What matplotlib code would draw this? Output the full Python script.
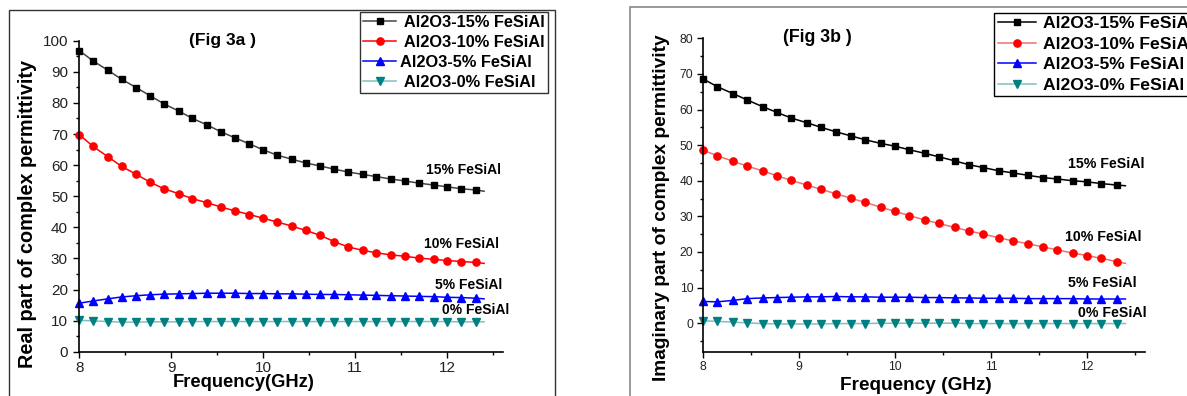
import matplotlib
matplotlib.use("Agg")
import matplotlib.pyplot as plt
from matplotlib.patches import Rectangle

plt.rcParams['font.family'] = ['Liberation Sans', 'DejaVu Sans']

# frequency points (GHz), markers; the fitted line runs on to 12.4
freq = [8.00, 8.15, 8.31, 8.46, 8.62, 8.77, 8.92, 9.08, 9.23, 9.39,
        9.54, 9.69, 9.85, 10.00, 10.15, 10.31, 10.46, 10.62, 10.77, 10.92,
        11.08, 11.23, 11.39, 11.54, 11.69, 11.85, 12.00, 12.15, 12.31]
freq_end = 12.40

labels = ['Al2O3-15% FeSiAl', 'Al2O3-10% FeSiAl', 'Al2O3-5% FeSiAl', 'Al2O3-0% FeSiAl']
short_labels = ['15% FeSiAl', '10% FeSiAl', '5% FeSiAl', '0% FeSiAl']

# Fig 3a : real part
real_15 = [96.8, 93.5, 90.5, 87.6, 84.9, 82.3, 79.7, 77.4, 75.0, 72.9,
           70.7, 68.8, 66.8, 64.9, 63.2, 61.9, 60.7, 59.7, 58.7, 57.8,
           57.0, 56.3, 55.5, 54.9, 54.2, 53.6, 53.0, 52.4, 52.0]
real_10 = [69.8, 66.0, 62.7, 59.6, 57.0, 54.5, 52.4, 50.8, 49.2, 47.9,
           46.5, 45.3, 44.1, 42.9, 41.7, 40.4, 39.0, 37.4, 35.4, 33.7,
           32.6, 31.8, 31.1, 30.7, 30.1, 29.7, 29.3, 29.0, 28.7]
real_5 = [15.6, 16.3, 17.0, 17.6, 18.0, 18.3, 18.5, 18.6, 18.7, 18.8,
          18.8, 18.8, 18.7, 18.7, 18.6, 18.6, 18.5, 18.4, 18.4, 18.3,
          18.2, 18.1, 18.0, 17.9, 17.8, 17.7, 17.5, 17.4, 17.2]
real_0 = [10.1, 9.9, 9.7, 9.5, 9.5, 9.6, 9.6, 9.6, 9.7, 9.7,
          9.7, 9.7, 9.7, 9.7, 9.7, 9.7, 9.7, 9.7, 9.7, 9.7,
          9.7, 9.7, 9.7, 9.7, 9.7, 9.7, 9.7, 9.6, 9.6]
real_end = [51.6, 28.4, 17.0, 9.6]

# Fig 3b : imaginary part
imag_15 = [68.6, 66.4, 64.5, 62.7, 60.8, 59.2, 57.6, 56.3, 55.0, 53.7,
           52.6, 51.5, 50.5, 49.7, 48.7, 47.7, 46.7, 45.6, 44.5, 43.7,
           42.8, 42.2, 41.5, 40.9, 40.5, 40.0, 39.7, 39.2, 38.8]
imag_10 = [48.6, 47.0, 45.5, 44.1, 42.8, 41.4, 40.1, 38.8, 37.6, 36.3,
           35.1, 33.9, 32.6, 31.4, 30.2, 29.0, 28.0, 26.9, 25.9, 25.0,
           24.0, 23.1, 22.3, 21.4, 20.6, 19.7, 19.0, 18.2, 17.3]
imag_5 = [6.1, 6.0, 6.4, 6.9, 7.1, 7.2, 7.3, 7.4, 7.4, 7.5,
          7.4, 7.4, 7.3, 7.3, 7.3, 7.2, 7.2, 7.1, 7.1, 7.0,
          7.0, 7.0, 6.9, 6.9, 6.9, 6.9, 6.8, 6.8, 6.8]
imag_0 = [0.7, 0.5, 0.3, 0.1, -0.1, -0.2, -0.2, -0.2, -0.2, -0.1,
          -0.1, -0.1, 0.0, 0.0, 0.0, 0.0, 0.0, 0.0, -0.1, -0.1,
          -0.1, -0.1, -0.1, -0.1, -0.1, -0.1, -0.1, -0.1, -0.1]
imag_end = [38.6, 16.8, 6.8, -0.1]

# label positions (x in GHz, y in data units)
real_label_pos = [(11.77, 58.4), (11.75, 34.5), (11.87, 21.4), (11.94, 13.4)]
imag_label_pos = [(11.80, 44.7), (11.77, 24.3), (11.80, 11.4), (11.91, 3.0)]

markers = ['s', 'o', '^', 'v']
marker_sizes = [4.5, 5.2, 6.2, 6.2]
marker_colors = ['black', 'red', 'blue', '#008080']
line_colors_a = ['#444444', 'red', 'blue', '#7fc0c0']
line_colors_b = ['black', '#f07070', 'blue', '#7fc0c0']

fig = plt.figure(figsize=(11.87, 3.96), dpi=100)

# outer frames of the two figure panels
fig.patches.append(Rectangle((9 / 1187, -0.1), 546 / 1187, 1.1 - 10 / 396,
                             transform=fig.transFigure, fill=False,
                             edgecolor='#333333', linewidth=1.0))
fig.patches.append(Rectangle((630 / 1187, -0.1), 1.0, 1.1 - 6.7 / 396,
                             transform=fig.transFigure, fill=False,
                             edgecolor='#888888', linewidth=1.2))

ax1 = fig.add_axes([79.3 / 1187, 44.3 / 396, 423.2 / 1187, 311.0 / 396])
ax2 = fig.add_axes([703 / 1187, 44.3 / 396, 441.6 / 1187, 313.4 / 396])


def draw(ax, series, ends, line_colors, lead):
    handles = []
    for i, vals in enumerate(series):
        h, = ax.plot(freq + [freq_end], vals + [ends[i]],
                     color=line_colors[i], linewidth=1.1,
                     marker=markers[i], markersize=marker_sizes[i],
                     markerfacecolor=marker_colors[i],
                     markeredgecolor=marker_colors[i],
                     markevery=slice(0, len(freq)),
                     label=lead[i] + labels[i], clip_on=False)
        handles.append(h)
    return handles


def style(ax, ylim, yticks, tick_size, ypad):
    ax.set_xlim(8, 12.6)
    ax.set_ylim(*ylim)
    for s in ['top', 'right']:
        ax.spines[s].set_visible(False)
    ax.spines['left'].set_linewidth(1.2)
    ax.spines['bottom'].set_linewidth(1.2)
    ax.set_xticks([8, 9, 10, 11, 12])
    ax.set_xticks([8.5, 9.5, 10.5, 11.5, 12.5], minor=True)
    ax.set_yticks(yticks)
    ax.set_yticks([t + 5 for t in yticks if t + 5 < ylim[1]] +
                  ([ylim[0] + 3] if ylim[0] < 0 else []), minor=True)
    ax.tick_params(which='major', direction='out', length=4.2, width=1.0,
                   labelsize=tick_size, labelcolor='#222222')
    ax.tick_params(which='minor', direction='out', length=2.2, width=1.0)
    ax.tick_params(axis='y', which='major', pad=ypad)
    ax.tick_params(axis='x', which='major', pad=2.5)


# ---------- Fig 3a ----------
h1 = draw(ax1, [real_15, real_10, real_5, real_0], real_end, line_colors_a,
          [' ', ' ', '', ' '])
style(ax1, (0, 100), list(range(0, 101, 10)), 11, 4.0)
ax1.text(9.556, 100, '(Fig 3a )', fontsize=12.5, fontweight='bold',
         ha='center', va='center')
for (x, y), t in zip(real_label_pos, short_labels):
    ax1.text(x, y, t, fontsize=10, fontweight='bold', ha='left', va='center')
ax1.text(0.389, -0.10, 'Frequency(GHz)', transform=ax1.transAxes,
         fontsize=13.2, fontweight='bold', ha='center', va='center')
ax1.text(-0.122, 0.443, 'Real part of complex permittivity',
         transform=ax1.transAxes, rotation=90, fontsize=14.3,
         fontweight='bold', ha='center', va='center')
fig.legend(handles=h1, loc='upper left', bbox_to_anchor=(360 / 1187, 1 - 11.7 / 396),
           prop={'size': 11.8, 'weight': 'bold'}, frameon=True, fancybox=False,
           edgecolor='#333333', framealpha=1, borderpad=0.2, handlelength=2.0,
           handletextpad=0.25, labelspacing=0.3, borderaxespad=0)

# ---------- Fig 3b ----------
h2 = draw(ax2, [imag_15, imag_10, imag_5, imag_0], imag_end, line_colors_b,
          ['', '', '', ''])
style(ax2, (-8, 80), list(range(0, 81, 10)), 8.7, 2.8)
ax2.text(9.19, 80.2, '(Fig 3b )', fontsize=12.8, fontweight='bold',
         ha='center', va='center')
for (x, y), t in zip(imag_label_pos, short_labels):
    ax2.text(x, y, t, fontsize=10.2, fontweight='bold', ha='left', va='center')
ax2.text(0.482, -0.109, 'Frequency (GHz)', transform=ax2.transAxes,
         fontsize=13.7, fontweight='bold', ha='center', va='center')
ax2.text(-0.0935, 0.46, 'Imaginary part of complex permittivity',
         transform=ax2.transAxes, rotation=90, fontsize=13.8,
         fontweight='bold', ha='center', va='center')
fig.legend(handles=h2, loc='upper left', bbox_to_anchor=(994.3 / 1187, 1 - 12.7 / 396),
           prop={'size': 12.6, 'weight': 'bold'}, frameon=True, fancybox=False,
           edgecolor='black', framealpha=1, borderpad=0.2, handlelength=2.2,
           handletextpad=0.4, labelspacing=0.3, borderaxespad=0)

fig.savefig('out.png', dpi=100)
